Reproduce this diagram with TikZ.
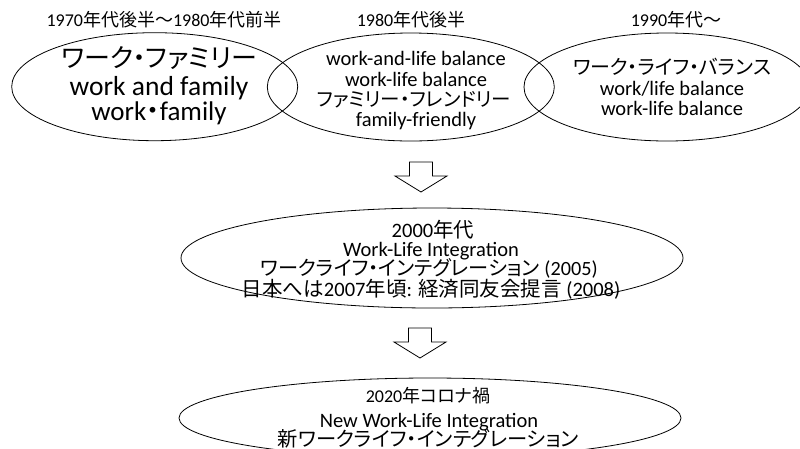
\documentclass[tikz,border=0pt]{standalone}
\usepackage{fontspec}
\setmainfont{Carlito}
\newfontfamily\jpfont[RawFeature=+palt]{Noto Sans CJK JP}
\newcommand{\jp}[1]{{\jpfont #1}}
\usetikzlibrary{shapes.geometric}
\newcommand{\fs}[1]{\fontsize{#1}{#1}\selectfont}
\begin{document}
\begin{tikzpicture}[x=1pt,y=-1pt,
  era/.style={draw=black, line width=0.8pt, ellipse, inner sep=0pt, outer sep=0pt},
  txt/.style={anchor=base, inner sep=0pt, outer sep=0pt, text=black},
  blockarrow/.style={draw=black, line width=0.8pt, fill=white, line join=miter},
  downarrow/.pic={\draw[blockarrow] (-11.5,0) -- (11.5,0) -- (11.5,14) -- (26,14) -- (0,30) -- (-26,14) -- (-11.5,14) -- cycle;}]
\clip (0,0) rectangle (800,448);
\fill[white] (0,0) rectangle (800,448);

% top ellipses
\node[era, minimum width=286pt, minimum height=108pt] (e1) at (154.7,86.7) {};
\node[era, minimum width=287pt, minimum height=108pt] (e2) at (410.8,87) {};
\node[era, minimum width=286pt, minimum height=108pt] (e3) at (667,87) {};
\node[era, minimum width=502pt, minimum height=100pt] (e4) at (432,258) {};
\node[era, minimum width=502pt, minimum height=80pt] (e5) at (430,418) {};

% period labels
\node[txt, font=\fs{18}] (l1) at (164,26.5) {1970\jp{年代後半～}1980\jp{年代前半}};
\node[txt, font=\fs{18}] (l2) at (411,26.5) {1980\jp{年代後半}};
\node[txt, font=\fs{18}] (l3) at (676,26.5) {1990\jp{年代～}};

% ellipse 1
\node[txt, font=\fs{26}] (t11) at (159,67) {\jp{ワーク・ファミリー}};
\node[txt, font=\fs{27.5}] (t12) at (159,95) {work and family};
\node[txt, font=\fs{27}] (t13) at (159,120.5) {work\jp{・}family};

% ellipse 2
\node[txt, font=\fs{20.5}] (t21) at (416,65) {work-and-life balance};
\node[txt, font=\fs{20.5}] (t22) at (416,86) {work-life balance};
\node[txt, font=\fs{19.5}] (t23) at (414,106) {\jp{ファミリー・フレンドリー}};
\node[txt, font=\fs{20.5}] (t24) at (416,126.5) {family-friendly};

% ellipse 3
\node[txt, font=\fs{20}] (t31) at (672,74) {\jp{ワーク・ライフ・バランス}};
\node[txt, font=\fs{20.5}] (t32) at (672,95) {work/life balance};
\node[txt, font=\fs{20.5}] (t33) at (672,115) {work-life balance};

% arrows
\coordinate (a1) at (421,162);
\coordinate (a2) at (420,328);
\pic at (a1) {downarrow};
\pic at (a2) {downarrow};

% ellipse 4
\node[txt, font=\fs{20.5}] (t41) at (433,237) {2000\jp{年代}};
\node[txt, font=\fs{20.5}] (t42) at (431,256.7) {Work-Life Integration};
\node[txt, font=\fs{20.2}] (t43) at (429,275) {\jp{ワークライフ・インテグレーション} (2005)};
\node[txt, font=\fs{20.5}] (t44) at (431,296) {\jp{日本へは}2007\jp{年頃}: \jp{経済同友会提言} (2008)};

% ellipse 5
\node[txt, font=\fs{18}] (t51) at (428,402) {2020\jp{年コロナ禍}};
\node[txt, font=\fs{20.5}] (t52) at (429,427) {New Work-Life Integration};
\node[txt, font=\fs{20.3}] (t53) at (428.5,446) {\jp{新ワークライフ・インテグレーション}};
\end{tikzpicture}
\end{document}
